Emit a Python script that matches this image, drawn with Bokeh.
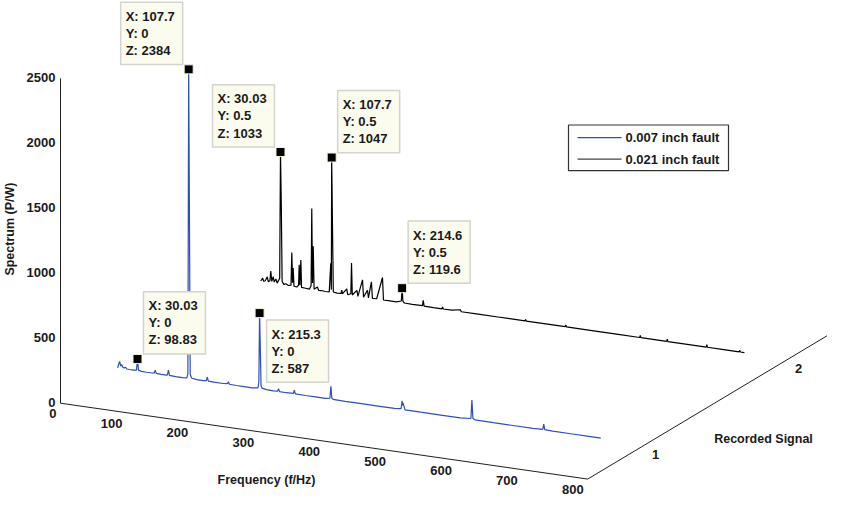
import numpy as np
from bokeh.plotting import figure
from bokeh.models import Range1d, ColumnDataSource
from bokeh.core.properties import value
from bokeh.embed import file_html
from bokeh.resources import INLINE

# ---------------- data ----------------
series_names = ["0.007 inch fault", "0.021 inch fault"]
series_signal = [0.0, 0.5]          # "Recorded Signal" position of each spectrum
series_colors = ["#2f4fb3", "#000000"]

blue_freq = [0, 1.5, 3, 4.5, 6, 8, 10, 12, 14, 18, 24, 28.5, 30.03, 31.5, 36, 44, 52, 55.5, 57, 58.5,
             66, 74, 75.5, 77, 78.5, 88, 98, 105, 106.5, 107.7, 108.8, 110, 112, 120, 130, 134.5, 136,
             137.5, 146, 160, 166.5, 168, 169.5, 180, 192, 204, 213, 214.2, 215.3, 216.4, 217.5, 219,
             226, 236, 242.5, 244, 245.5, 256, 266.5, 268, 269.5, 285, 300, 315, 322, 323.5, 325, 327,
             345, 370, 395, 420, 430, 431.5, 432.3, 433, 436, 460, 490, 520, 536, 537.5, 539, 542, 570, 600,
             630, 645, 646.5, 648, 660, 690, 715, 733]
blue_amp = [8, 40, 60, 25, 38, 18, 14, 22, 10, 9, 8, 12, 98.83, 14, 8, 7, 7, 9, 33, 9,
            6, 6, 9, 47, 8, 5, 5, 8, 40, 2384, 1330, 40, 12, 6, 5, 8, 37,
            7, 5, 5, 8, 24, 6, 4, 4, 4, 10, 60, 587, 320, 30, 12,
            6, 4, 6, 27, 5, 4, 6, 32, 5, 4, 4, 3, 10, 103, 12, 5,
            3, 3, 3, 3, 8, 70, 35, 55, 4, 3, 3, 3, 10, 153, 14, 4, 3, 3,
            3, 6, 47, 6, 3, 3, 3, 3]

black_freq = [0, 1.5, 3, 4.5, 7, 10, 11.5, 14, 15.3, 16.8, 19, 20.5, 23, 25, 28.8, 30.03, 31.2, 32.5,
              35, 38, 42, 46, 47.2, 48.3, 49.3, 50.5, 55, 57.5, 58.4, 59.5, 60.9, 62, 68, 74, 76.5,
              77.5, 78.6, 79.7, 81, 86, 88, 92, 98, 104, 106.3, 107.2, 107.7, 108.9, 110.2, 116, 122,
              123, 124, 130.6, 132, 136.8, 137.8, 139, 146, 147.5, 154.5, 156, 162, 163.5, 168, 169.5,
              176, 184.8, 186.3, 196, 206, 213.4, 214.6, 215.8, 218, 230, 245.5, 246.6, 248, 262, 275,
              276, 277, 290, 303, 304.5, 330, 360, 401, 402, 403, 430, 462, 463, 464, 500, 540, 575,
              576, 577, 616, 617, 618, 650, 676, 677, 678, 700, 726, 727, 728, 734]
black_amp = [19, 30, 42, 20, 25, 58, 22, 30, 105, 28, 65, 25, 50, 20, 60, 1033, 651, 40,
             18, 25, 14, 20, 272, 40, 154, 15, 12, 30, 186, 30, 224, 14, 12, 10, 40,
             632, 60, 343, 14, 35, 10, 12, 9, 10, 233, 30, 1047, 534, 14, 9, 12,
             38, 9, 53, 9, 20, 257, 12, 53, 8, 140, 8, 65, 8, 135, 8,
             10, 180, 8, 8, 8, 20, 119.6, 20, 8, 6, 8, 50, 6, 5, 5,
             20, 5, 5, 18, 4, 4, 4, 4, 15, 4, 4, 4, 18, 4, 3, 3, 3,
             20, 3, 3, 20, 3, 3, 3, 22, 3, 3, 3, 15, 3, 3]

# data tips
tip_x = [107.7, 30.03, 107.7, 214.6, 30.03, 215.3]
tip_y = [0, 0.5, 0.5, 0.5, 0, 0]
tip_z = [2384, 1033, 1047, 119.6, 98.83, 587]
tip_side = ["ul", "ul", "ur", "ur", "ur", "dr"]

# axes
x_lim = (0, 800)
y_lim = (-0.2, 0.7)
z_lim = (0, 2500)
x_ticks = [0, 100, 200, 300, 400, 500, 600, 700, 800]
y_ticks = [0, 0.5]
y_tick_labels = ["1", "2"]
z_ticks = [0, 500, 1000, 1500, 2000, 2500]
x_title = "Frequency (f/Hz)"
y_title = "Recorded Signal"
z_title = "Spectrum (P/W)"


# ---------------- 3-D view projection (to page pixels) ----------------
def proj(x, y, z):
    x = np.asarray(x, dtype=float)
    y = np.asarray(y, dtype=float)
    z = np.asarray(z, dtype=float)
    dy = y - y_lim[0]
    sx = 68 + 0.659 * x + 286 * dy
    sy = 419 + 0.0975 * x - 176 * dy - 0.1336 * z
    return sx, sy


FONT = value("Liberation Sans")

p = figure(width=827, height=499, x_range=Range1d(8, 835), y_range=Range1d(518, 5),
           output_backend="svg", toolbar_location=None, min_border=0,
           x_axis_location=None, y_axis_location=None)
p.grid.visible = False
p.outline_line_color = None
p.background_fill_color = "white"

# axis lines
ox, oy = proj(x_lim[0], y_lim[0], z_lim[0])
xe, ye = proj(x_lim[1], y_lim[0], z_lim[0])
zx, zy = proj(x_lim[0], y_lim[0], z_lim[1])
yx, yy = proj(x_lim[1], y_lim[1], z_lim[0])
p.segment(x0=[float(ox), float(ox), float(xe)], y0=[float(oy), float(oy), float(ye)],
          x1=[float(xe), float(zx), float(yx)], y1=[float(ye), float(zy), float(yy)],
          line_color="#202020", line_width=1)

# tick labels
zx_t, zy_t = proj([x_lim[0]] * len(z_ticks), [y_lim[0]] * len(z_ticks), z_ticks)
p.text(x=list(zx_t - 5), y=list(zy_t - 0.5), text=[str(t) for t in z_ticks],
       text_font=FONT, text_font_size="13px", text_font_style="bold",
       text_align="right", text_baseline="middle", text_color="#1a1a1a")

xx_t, xy_t = proj(x_ticks, [y_lim[0]] * len(x_ticks), [0] * len(x_ticks))
p.text(x=list(xx_t - 4), y=list(xy_t + 11), text=[str(t) for t in x_ticks],
       text_font=FONT, text_font_size="13px", text_font_style="bold",
       text_align="right", text_baseline="middle", text_color="#1a1a1a")

yx_t, yy_t = proj([x_lim[1]] * len(y_ticks), y_ticks, [0] * len(y_ticks))
p.text(x=list(yx_t + 7), y=list(yy_t + 9.5), text=y_tick_labels,
       text_font=FONT, text_font_size="13px", text_font_style="bold",
       text_align="left", text_baseline="middle", text_color="#1a1a1a")

# axis titles
p.text(x=[274], y=[498], text=[x_title], text_font=FONT, text_font_size="12.5px",
       text_font_style="bold", text_align="center", text_baseline="middle", text_color="#1a1a1a")
p.text(x=[771], y=[456], text=[y_title], text_font=FONT, text_font_size="12.5px",
       text_font_style="bold", text_align="center", text_baseline="middle", text_color="#1a1a1a")
p.text(x=[17], y=[240], text=[z_title], angle=np.pi / 2, text_font=FONT, text_font_size="12.5px",
       text_font_style="bold", text_align="center", text_baseline="middle", text_color="#1a1a1a")

# spectra
for freq, amp, sig, col in [(black_freq, black_amp, series_signal[1], series_colors[1]),
                            (blue_freq, blue_amp, series_signal[0], series_colors[0])]:
    sx, sy = proj(freq, [sig] * len(freq), amp)
    src = ColumnDataSource(dict(x=sx, y=sy))
    p.line("x", "y", source=src, line_color=col, line_width=1.2)

# data tips
mx, my = proj(tip_x, tip_y, tip_z)
left, right, top, bottom = [], [], [], []
tx, ty, tt = [], [], []
for i in range(len(tip_x)):
    s = tip_side[i]
    if s == "ul":
        l, t = mx[i] - 68, my[i] - 69
    elif s == "ur":
        l, t = mx[i] + 6, my[i] - 69
    else:
        l, t = mx[i] + 7, my[i] + 7
    left.append(l); right.append(l + 62); top.append(t); bottom.append(t + 64)
    for k, txt in enumerate([f"X: {tip_x[i]:g}", f"Y: {tip_y[i]:g}", f"Z: {tip_z[i]:g}"]):
        tx.append(l + 5)
        ty.append(t + 14.5 + 17.5 * k)
        tt.append(txt)
p.quad(left=left, right=right, top=top, bottom=bottom, fill_color="#fbfbee",
       line_color="#d4d4cc", line_width=1.5)
p.text(x=tx, y=ty, text=tt, text_font=FONT, text_font_size="13px", text_font_style="bold",
       text_align="left", text_baseline="middle", text_color="#1a1a1a")
p.scatter(x=list(mx), y=list(my), marker="square", size=9, fill_color="black",
          line_color="#f4f4d8", line_width=1)

# legend
p.quad(left=[576], right=[736], top=[133], bottom=[180], fill_color="white",
       line_color="#333333", line_width=1.2)
p.segment(x0=[585, 585], y0=[146, 168], x1=[629, 629], y1=[146, 168],
          line_color=[series_colors[0], "#444444"], line_width=1.3)
p.text(x=[633, 633], y=[146, 168], text=series_names, text_font=FONT, text_font_size="13px",
       text_font_style="bold", text_align="left", text_baseline="middle", text_color="#1a1a1a")

open("out.html", "w").write(file_html(p, INLINE))
